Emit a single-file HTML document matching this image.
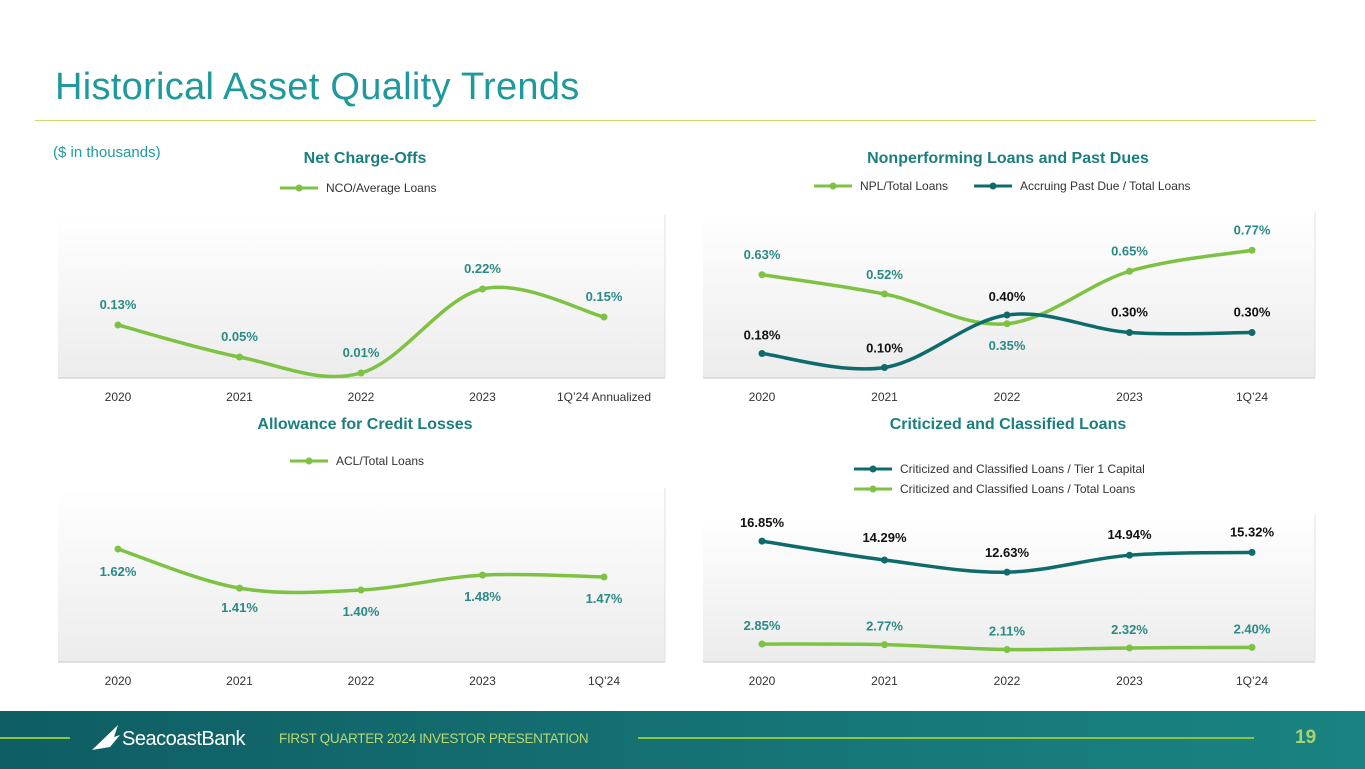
<!DOCTYPE html>
<html><head><meta charset="utf-8"><style>
body{margin:0;width:1365px;height:769px;overflow:hidden;background:#fff;font-family:"Liberation Sans",sans-serif;position:relative}
.abs{position:absolute}
#title{left:55px;top:66px;font-size:38px;color:#1f9a9c;letter-spacing:0.3px}
#rule{left:35px;top:120px;width:1281px;height:1px;background:#c9d86a}
.ct{font-weight:bold;color:#1a7f7d;font-size:16px;text-align:center}
#footer{left:0;top:711px;width:1365px;height:58px;background:linear-gradient(90deg,#0e5e63,#146d70 40%,#177a7a 70%,#1a8282)}
</style></head><body>
<div id="title" class="abs">Historical Asset Quality Trends</div>
<div id="rule" class="abs"></div>
<div class="abs" style="left:53px;top:144px;font-size:15px;color:#1f9a9c">($ in thousands)</div>
<div class="abs ct" style="left:200px;top:150px;width:330px">Net Charge-Offs</div>
<div class="abs ct" style="left:808px;top:150px;width:400px">Nonperforming Loans and Past Dues</div>
<div class="abs ct" style="left:200px;top:416px;width:330px">Allowance for Credit Losses</div>
<div class="abs ct" style="left:808px;top:416px;width:400px">Criticized and Classified Loans</div>
<svg class="abs" style="left:0;top:0" width="1365" height="711" id="svg">
<defs><linearGradient id="pg" x1="0" y1="0" x2="0" y2="1"><stop offset="0" stop-color="#fff"/><stop offset="1" stop-color="#ececec"/></linearGradient></defs>
</svg>
<div id="footer" class="abs">
<div class="abs" style="left:0;top:26px;width:70px;height:2px;background:#8cc63f"></div>
<svg class="abs" style="left:90px;top:12px" width="32" height="30"><path d="M2 27 L28 2 L24 14 L30 12 L20 24 Z" fill="#fff"/></svg>
<div class="abs" style="left:122px;top:17px;color:#fff;font-size:20px;letter-spacing:-0.5px">SeacoastBank</div>
<div class="abs" style="left:279px;top:20px;color:#b9d970;font-size:13.5px;letter-spacing:-0.3px">FIRST QUARTER 2024 INVESTOR PRESENTATION</div>
<div class="abs" style="left:638px;top:26px;width:616px;height:2px;background:#8cc63f"></div>
<div class="abs" style="left:1295px;top:16px;color:#a9d46b;font-size:19px;font-weight:bold">19</div>
</div>
<script>
const GREEN='#7dc242',TEAL='#0e6b6b',LT='#2a8a86';
const ncoCats=['2020','2021','2022','2023','1Q’24 Annualized'];
const ncoVals=[0.13,0.05,0.01,0.22,0.15];
const nplCats=['2020','2021','2022','2023','1Q’24'];
const nplVals=[0.63,0.52,0.35,0.65,0.77];
const pastDueVals=[0.18,0.10,0.40,0.30,0.30];
const aclCats=['2020','2021','2022','2023','1Q’24'];
const aclVals=[1.62,1.41,1.40,1.48,1.47];
const ccCats=['2020','2021','2022','2023','1Q’24'];
const tier1Vals=[16.85,14.29,12.63,14.94,15.32];
const totalLoanVals=[2.85,2.77,2.11,2.32,2.40];

const svg=document.getElementById('svg');
function mk(tag,attrs,name){const e=document.createElementNS('http://www.w3.org/2000/svg',tag);for(const k in attrs)e.setAttribute(k,attrs[k]);


svg.appendChild(e);return e;}
function txt(x,y,s,fill,size,bold,name,anchor){const t=mk('text',{x:x,y:y,fill:fill,'font-size':size,'font-weight':bold?'bold':'normal','text-anchor':anchor||'middle','font-family':'Liberation Sans, sans-serif'},name);t.textContent=s;return t;}
function smooth(p){let d='M'+p[0][0]+' '+p[0][1];for(let i=0;i<p.length-1;i++){const p0=p[Math.max(i-1,0)],p1=p[i],p2=p[i+1],p3=p[Math.min(i+2,p.length-1)];const t=0.17;
d+=' C'+(p1[0]+(p2[0]-p0[0])*t)+' '+(p1[1]+(p2[1]-p0[1])*t)+' '+(p2[0]-(p3[0]-p1[0])*t)+' '+(p2[1]-(p3[1]-p1[1])*t)+' '+p2[0]+' '+p2[1];}return d;}
function panel(x0,y0,x1,y1,cats,xFirst,xStep,name){
  mk('rect',{x:x0,y:y0,width:x1-x0,height:y1-y0,fill:'url(#pg)'},name+'-plot-area');
  mk('line',{x1:x0,y1:y1,x2:x1,y2:y1,stroke:'#c8c8c8','stroke-width':1},name+'-x-axis');
  mk('line',{x1:x1,y1:y0,x2:x1,y2:y1,stroke:'#e0e0e0','stroke-width':1},name+'-right-edge');
  cats.forEach((c,i)=>txt(xFirst+i*xStep,y1+23,c,'#333',12,false,name+'-x-tick-'+i));
}
function series(vals,xFirst,xStep,yf,color,w,r,labColor,offs,name){
  const p=vals.map((v,i)=>[xFirst+i*xStep,yf(v)]);
  mk('path',{d:smooth(p),fill:'none',stroke:color,'stroke-width':w,'stroke-linecap':'round'},name+'-line');
  p.forEach((q,i)=>{mk('circle',{cx:q[0],cy:q[1],r:r,fill:color},name+'-point-'+i);
    txt(q[0],q[1]+offs[i],vals[i].toFixed(2)+'%',labColor,13,true,name+'-label-'+i);});
}
function legend(x,y,color,label,name){mk('line',{x1:x,y1:y,x2:x+38,y2:y,stroke:color,'stroke-width':3},name+'-swatch');mk('circle',{cx:x+19,cy:y,r:3.5,fill:color},name+'-dot');txt(x+46,y+4,label,'#333',12,false,name+'-text','start');}

panel(58,215,665,378,ncoCats,118,121.5,'nco');
legend(280,188,GREEN,'NCO/Average Loans','nco-legend');
series(ncoVals,118,121.5,v=>377-v*400,GREEN,3.5,3.5,LT,[-16,-16,-16,-16,-16],'nco');
panel(703,212,1315,378,nplCats,762,122.5,'npl');
legend(814,186,GREEN,'NPL/Total Loans','npl-legend');
legend(974,186,TEAL,'Accruing Past Due / Total Loans','pastdue-legend');
const ynpl=v=>385-v*175;
series(nplVals,762,122.5,ynpl,GREEN,3.5,3.5,LT,[-16,-15,26,-16,-16],'npl');
series(pastDueVals,762,122.5,ynpl,TEAL,3.5,3.5,'#111',[-14,-15,-14,-16,-16],'pastdue');
panel(58,488,665,662,aclCats,118,121.5,'acl');
legend(290,461,GREEN,'ACL/Total Loans','acl-legend');
series(aclVals,118,121.5,v=>590+(1.40-v)*186,GREEN,3.5,3.5,LT,[27,24,26,26,26],'acl');
panel(703,515,1315,662,ccCats,762,122.5,'cc');
legend(854,469,TEAL,'Criticized and Classified Loans / Tier 1 Capital','tier1-legend');
legend(854,489,GREEN,'Criticized and Classified Loans / Total Loans','totalloans-legend');
const ycc=v=>665-v*7.35;
series(tier1Vals,762,122.5,ycc,TEAL,3.5,3.5,'#111',[-14,-18,-15,-16,-16],'tier1');
series(totalLoanVals,762,122.5,ycc,GREEN,3.5,3.5,LT,[-14,-14,-14,-14,-14],'totalloans');
</script>
</body></html>
